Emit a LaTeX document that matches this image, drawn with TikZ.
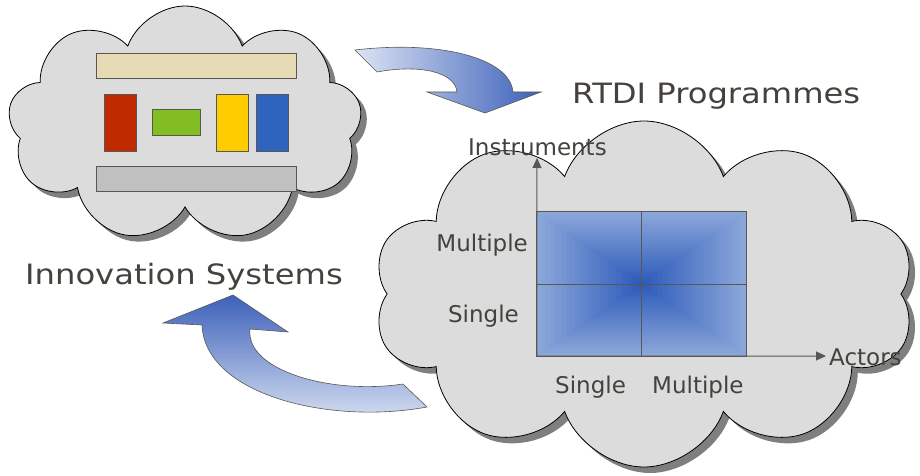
\documentclass[tikz,border=0pt]{standalone}
\usepackage{fontspec}
\setmainfont{DejaVu Sans}
\newfontfamily\titlefont[FakeStretch=1.15]{DejaVu Sans}
\usetikzlibrary{shapes.symbols,shadows,arrows.meta}

\definecolor{cloudgray}{HTML}{DCDCDC}
\definecolor{shadowgray}{HTML}{7F7F7F}
\definecolor{textgray}{HTML}{45423D}
\definecolor{linegray}{HTML}{5A5752}
\definecolor{arrowlight}{HTML}{DCE4F4}
\definecolor{arrowdark}{HTML}{3C61BA}
\definecolor{cellouter}{HTML}{8BA7DA}
\definecolor{cellinner}{HTML}{2E5CBA}
\definecolor{barbeige}{HTML}{E6DBB4}
\definecolor{bargray}{HTML}{C0C0C0}
\definecolor{blockred}{HTML}{BF2A00}
\definecolor{blockgreen}{HTML}{83BD24}
\definecolor{blockyellow}{HTML}{FFCC00}
\definecolor{blockblue}{HTML}{2F64BE}

\tikzset{
  bubble/.style={cloud, cloud puffs=9, cloud puff arc=140, draw=black,
    line width=0.8pt, fill=cloudgray, inner sep=0pt,
    drop shadow={fill=shadowgray, opacity=1, shadow xshift=6pt, shadow yshift=-6pt}},
  block/.style={draw=linegray, line width=1pt, inner sep=0pt},
  bigtext/.style={text=textgray, font=\titlefont\fontsize{28}{32}\selectfont, inner sep=0pt},
  smalltext/.style={text=textgray, font=\fontsize{23}{27}\selectfont, inner sep=0pt},
  blockarrow/.style={draw=linegray, line width=0.6pt},
  gridline/.style={draw=linegray, line width=1pt},
  axis/.style={draw=linegray, line width=1pt, -{Triangle[length=10pt,width=9pt]}}
}

\begin{document}
\begin{tikzpicture}[x=1pt,y=-1pt]
    \useasboundingbox (0,0) rectangle (920,476);
    \def\nshade{24} % number of rings in the grid gradient

    % Define curved block arrows
    \path[blockarrow, left color=arrowlight, right color=arrowdark]
        (355,50) .. controls (440,40) and (510,58) .. (513,92) -- (541,92) -- (485,113)
        -- (427,92) -- (457,92) .. controls (455,72) and (420,64) .. (377,72) -- cycle;
    \path[blockarrow, top color=arrowdark, bottom color=arrowlight]
        (233,295) -- (288,332) -- (250,329) .. controls (245,370) and (330,395) .. (403,384)
        -- (427,407) .. controls (330,425) and (205,395) .. (202,325) -- (163,323) -- cycle;

    % Define clouds
    \node[bubble, minimum width=354pt, minimum height=236pt] (innov) at (185,124) {};
    \node[bubble, cloud puffs=10, minimum width=542pt, minimum height=346pt] (rtdi) at (644,294) {};

    % Define blocks of the innovation system
    \foreach \name/\x/\y/\w/\h/\col in
    {
        topbar/196/66.5/200/25/barbeige,
        redblock/120/123/32/56/blockred,
        greenblock/176/122.5/48/25/blockgreen,
        yellowblock/232/123/32/56/blockyellow,
        blueblock/272/123/32/56/blockblue,
        lowbar/196/178.5/200/25/bargray} {
    \node[block, fill=\col, minimum width=\w pt, minimum height=\h pt] (\name) at (\x,\y) {};
    }

    % Define programme grid
    \node[inner sep=0pt, minimum width=209pt, minimum height=144pt] (grid) at (641.5,284) {};
    \foreach \k in {0,...,\nshade} {
        \pgfmathsetmacro\pct{100*\k/\nshade}
        \pgfmathsetmacro\gw{209*(1-\k/(\nshade+1))}
        \pgfmathsetmacro\gh{144*(1-\k/(\nshade+1))}
        \node[fill=cellinner!\pct!cellouter, inner sep=0pt, minimum width=\gw pt,
            minimum height=\gh pt] at (grid.center) {};
    }
    \draw[gridline] (grid.south west) rectangle (grid.north east);
    \draw[gridline] (grid.north) -- (grid.south) (grid.west) -- (grid.east);
    \coordinate (ytip) at (537,158);
    \coordinate (xtip) at (826,356);
    \draw[axis] (grid.south west) -- (ytip);
    \draw[axis] (grid.south west) -- (xtip);

    % Define labels
    \node[bigtext, anchor=base west] (rtdititle) at (572,103) {RTDI Programmes};
    \node[bigtext, anchor=base west] (innovtitle) at (25,284) {Innovation Systems};
    \node[smalltext, anchor=base west] (instr) at (468,155) {Instruments};
    \node[smalltext, anchor=base east] (ymulti) at (528,251) {Multiple};
    \node[smalltext, anchor=base east] (ysingle) at (519,322) {Single};
    \node[smalltext, anchor=base west] (xsingle) at (555,393) {Single};
    \node[smalltext, anchor=base west] (xmulti) at (652,393) {Multiple};
    \node[smalltext, anchor=base west] (actors) at (829,365) {Actors};
\end{tikzpicture}
\end{document}
